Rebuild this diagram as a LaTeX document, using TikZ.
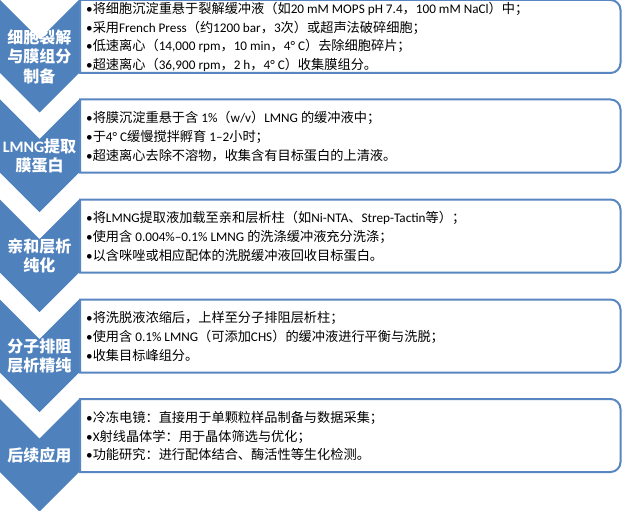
\documentclass[tikz,border=0pt]{standalone}
\usepackage{fontspec}
\setmainfont{Carlito}
\newfontfamily\cjkfam{Noto Sans CJK SC}
\newfontfamily\latfam{Carlito}
\makeatletter
\XeTeXinterchartokenstate=1
\newXeTeXintercharclass\CJKcls
\ifdefined\e@alloc@intercharclass@top
  \chardef\myboundary=\e@alloc@intercharclass@top
\else
  \chardef\myboundary=255
\fi
\newcount\mycc
\def\setcjkrange#1#2{\mycc=#1\relax
  \loop\XeTeXcharclass\mycc=\CJKcls\relax
  \ifnum\mycc<#2\relax\advance\mycc by 1\repeat}
\setcjkrange{"3000}{"303F}
\setcjkrange{"4E00}{"9FFF}
\setcjkrange{"FF00}{"FFEF}
\XeTeXinterchartoks 0 \CJKcls = {\cjkfam}
\XeTeXinterchartoks \myboundary \CJKcls = {\cjkfam}
\XeTeXinterchartoks \CJKcls 0 = {\latfam}
\XeTeXinterchartoks \CJKcls \myboundary = {\latfam}
\makeatother
\definecolor{chevblue}{RGB}{79,129,189}
\definecolor{boxblue}{RGB}{88,134,192}
\newcommand\mystage[4]{%
  \fill[chev] (0,#2) -- ++(39.5,39.5) -- ++(39.5,-39.5) -- ++(0,73)
      -- ++(-39.5,39.5) -- ++(-39.5,-39.5) -- cycle;
  \draw[boxline,rounded corners=10pt] (350,#2) -- (620.5,#2) -- (620.5,#2+73)
      -- (350,#2+73) [sharp corners] -- (80,#2+73) -- (80,#2) -- cycle;
  \node[labtext] (lab#1) at (39.5,#2+56.5) {#3};
  \node[bodytext] (body#1) at (86,#2+37) {#4};
}
\begin{document}
\begin{tikzpicture}[x=1pt,y=-1pt,
  chev/.style={fill=chevblue},
  boxline/.style={draw=boxblue,line width=2pt,fill=white},
  bodytext/.style={anchor=west,align=left,inner sep=0pt,text=black,
    font=\fontsize{13.2}{18.8}\selectfont},
  labtext/.style={align=center,inner sep=0pt,text=white,
    font=\bfseries\fontsize{16}{19.5}\selectfont}]
\useasboundingbox (0,0) rectangle (622,511);
\mystage{1}{0}{细胞裂解\\与膜组分\\制备}{%
•将细胞沉淀重悬于裂解缓冲液（如20 mM MOPS pH 7.4，100 mM NaCl）中；\\
•采用French Press（约1200 bar，3次）或超声法破碎细胞；\\
•低速离心（14,000 rpm，10 min，4°\hspace{3pt}C）去除细胞碎片；\\
•超速离心（36,900 rpm，2 h，4°\hspace{3pt}C）收集膜组分。}
\mystage{2}{99.5}{LMNG提取\\膜蛋白}{%
•将膜沉淀重悬于含 1\%（w/v）LMNG 的缓冲液中；\\
•于4°\hspace{3pt}C缓慢搅拌孵育 1–2小时；\\
•超速离心去除不溶物，收集含有目标蛋白的上清液。}
\mystage{3}{199.5}{亲和层析\\纯化}{%
•将LMNG提取液加载至亲和层析柱（如Ni-NTA、Strep-Tactin等）；\\
•使用含 0.004\%–0.1\% LMNG 的洗涤缓冲液充分洗涤；\\
•以含咪唑或相应配体的洗脱缓冲液回收目标蛋白。}
\mystage{4}{299.5}{分子排阻\\层析精纯}{%
•将洗脱液浓缩后，上样至分子排阻层析柱；\\
•使用含 0.1\% LMNG（可添加CHS）的缓冲液进行平衡与洗脱；\\
•收集目标峰组分。}
\mystage{5}{399}{后续应用}{%
•冷冻电镜：直接用于单颗粒样品制备与数据采集；\\
•X射线晶体学：用于晶体筛选与优化；\\
•功能研究：进行配体结合、酶活性等生化检测。}
\end{tikzpicture}
\end{document}
